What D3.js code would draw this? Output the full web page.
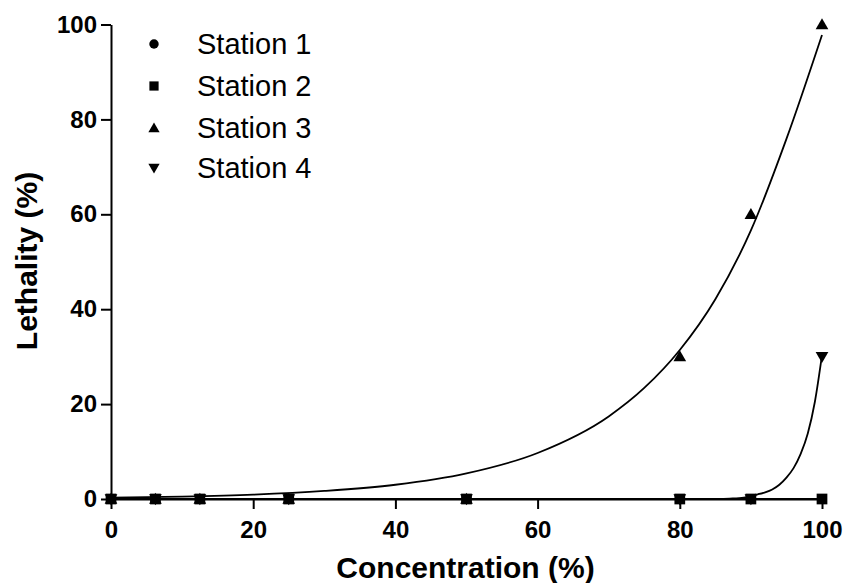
<!DOCTYPE html>
<html>
<head>
<meta charset="utf-8">
<script src="https://cdn.jsdelivr.net/npm/d3@7"></script>
<style>
  html, body { margin: 0; padding: 0; background: #fff; }
  svg { display: block; }
  text { font-family: Arial, "Liberation Sans", Helvetica, sans-serif; fill: #000; }
</style>
</head>
<body>
<script>
// ---- data ----
const concentrations = [0, 6.25, 12.5, 25, 50, 80, 90, 100];
const station1 = [0, 0, 0, 0, 0, 0, 0, 0];
const station2 = [0, 0, 0, 0, 0, 0, 0, 0];
const station3 = [0, 0, 0, 0, 0, 30, 60, 100];
const station4 = [0, 0, 0, 0, 0, 0, 0, 30];

// fitted curves
const fit12X = [0, 100];
const fit12Y = [0, 0];
const fit3X = [0, 10, 20, 30, 40, 50, 60, 70, 75, 80, 85, 90, 95, 100];
const fit3Y = [0.29, 0.52, 0.93, 1.7, 3.0, 5.4, 9.7, 17.4, 23.4, 31.4, 42.1, 56.6, 75.9, 97.8];
const fit4X = [85, 87, 89, 90, 91, 92, 93, 94, 95, 96, 97, 98, 99, 100];
const fit4Y = [0.0, 0.1, 0.3, 0.7, 1.0, 1.4, 2.0, 3.0, 4.5, 6.5, 9.5, 13.8, 20.5, 30.3];

const xTicks = [0, 20, 40, 60, 80, 100];
const yTicks = [0, 20, 40, 60, 80, 100];
const seriesNames = ["Station 1", "Station 2", "Station 3", "Station 4"];
const xTitle = "Concentration (%)";
const yTitle = "Lethality (%)";

// ---- layout ----
const W = 845, H = 583;
const svg = d3.select("body").append("svg").attr("width", W).attr("height", H);

const x = d3.scaleLinear().domain([0, 100]).range([111, 822]);
const y = d3.scaleLinear().domain([0, 100]).range([499, 24.5]);

// axes
const xAxis = d3.axisBottom(x).tickValues(xTicks).tickSize(10).tickPadding(12).tickSizeOuter(0);
const yAxis = d3.axisLeft(y).tickValues(yTicks).tickSize(10).tickPadding(4).tickSizeOuter(0);

const gx = svg.append("g").attr("transform", `translate(0,${y(0)})`).call(xAxis);
const gy = svg.append("g").attr("transform", `translate(${x(0)},0)`).call(yAxis);
[gx, gy].forEach(g => {
  g.select(".domain").attr("stroke", "#000").attr("stroke-width", 2);
  g.selectAll(".tick line").attr("stroke", "#000").attr("stroke-width", 2);
  g.selectAll(".tick text")
    .attr("fill", "#000")
    .style("font-family", "Arial, 'Liberation Sans', sans-serif")
    .style("font-size", "24px")
    .style("font-weight", "bold");
});

// titles
svg.append("text")
  .attr("x", (x(0) + x(100)) / 2 - 1)
  .attr("y", 578)
  .attr("text-anchor", "middle")
  .style("font-size", "30px")
  .style("font-weight", "bold")
  .text(xTitle);

svg.append("text")
  .attr("transform", `translate(37,${261}) rotate(-90)`)
  .attr("text-anchor", "middle")
  .style("font-size", "30px")
  .style("font-weight", "bold")
  .text(yTitle);

// fitted lines
const line = d3.line().x(d => x(d[0])).y(d => y(d[1])).curve(d3.curveMonotoneX);
const lineGroup = svg.append("g").attr("fill", "none").attr("stroke", "#000").attr("stroke-width", 1.8);
lineGroup.append("path").attr("d", line(d3.zip(fit12X, fit12Y)));
lineGroup.append("path").attr("d", line(d3.zip(fit3X, fit3Y)));
lineGroup.append("path").attr("d", line(d3.zip(fit4X, fit4Y)));

// markers
const sym = {
  circle: d3.symbol().type(d3.symbolCircle),
  square: d3.symbol().type(d3.symbolSquare),
  triangle: d3.symbol().type(d3.symbolTriangle)
};
function marker(g, type, size, down) {
  const p = g.append("path").attr("d", sym[type].size(size)()).attr("fill", "#000");
  return p;
}
function drawSeries(vals, type, size, down) {
  const g = svg.append("g");
  concentrations.forEach((c, i) => {
    const tri = down ? " rotate(180)" : "";
    g.append("path")
      .attr("d", sym[type].size(size)())
      .attr("fill", "#000")
      .attr("transform", `translate(${x(c)},${y(vals[i]) + (type === "triangle" ? (down ? -1 : 1) : 0)})${tri}`);
  });
}
drawSeries(station1, "circle", 80, false);
drawSeries(station3, "triangle", 70, false);
drawSeries(station4, "triangle", 70, true);
drawSeries(station2, "square", 115, false);

// legend
const legendTypes = [["circle", 70, false], ["square", 85, false], ["triangle", 55, false], ["triangle", 55, true]];
const legY = [44, 86, 128, 168];
const leg = svg.append("g");
seriesNames.forEach((name, i) => {
  const [type, size, down] = legendTypes[i];
  leg.append("path")
    .attr("d", sym[type].size(size)())
    .attr("fill", "#000")
    .attr("transform", `translate(154,${legY[i] + (type === "triangle" ? (down ? -1 : 1) : 0)})${down ? " rotate(180)" : ""}`);
  leg.append("text")
    .attr("x", 197)
    .attr("y", legY[i] + 10)
    .style("font-size", "29px")
    .text(name);
});
</script>
</body>
</html>
